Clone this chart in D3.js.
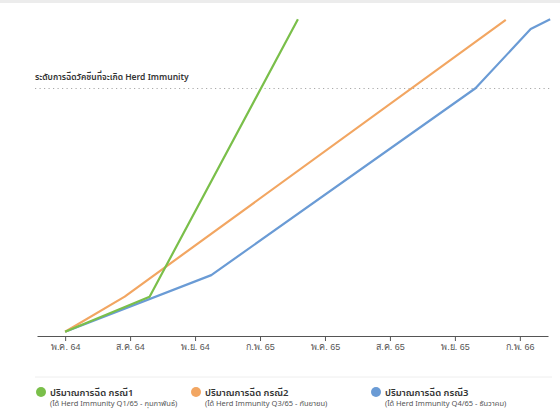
<!DOCTYPE html>
<html>
<head>
<meta charset="utf-8">
<script src="https://cdn.jsdelivr.net/npm/d3@7"></script>
<style>
    body { margin: 0; background: #fff; }
    svg { display: block; font-family: "Noto Sans Thai", "Noto Sans", sans-serif; }
    .axis path, .axis line { stroke: #555; }
    .axis text { fill: #555; font-size: 9px; }
</style>
</head>
<body>
<svg class="chart"></svg>
<script>
// months counted from พ.ค. 64, values in million doses
var tickMonths = [0, 3, 6, 9, 12, 15, 18, 21];
var tickLabels = ["พ.ค. 64", "ส.ค. 64", "พ.ย. 64", "ก.พ. 65", "พ.ค. 65", "ส.ค. 65", "พ.ย. 65", "ก.พ. 66"];

var monthsCase1 = [0, 3.9, 10.75];
var dosesCase1 = [1.7, 15.9, 128];
var monthsCase2 = [0, 2.75, 20.35];
var dosesCase2 = [1.7, 15.9, 127.7];
var monthsCase3 = [0, 6.75, 18.95, 21.5, 22.4];
var dosesCase3 = [1.7, 24.6, 100.1, 124, 128];

var herdLevel = 100;
var herdLabel = "ระดับการฉีดวัคซีนที่จะเกิด Herd Immunity";

var seriesNames = ["ปริมาณการฉีด กรณี1", "ปริมาณการฉีด กรณี2", "ปริมาณการฉีด กรณี3"];
var seriesNotes = ["(ได้ Herd Immunity Q1/65 - กุมภาพันธ์)", "(ได้ Herd Immunity Q3/65 - กันยายน)", "(ได้ Herd Immunity Q4/65 - ธันวาคม)"];
var seriesColors = ["#7abf4a", "#f2a662", "#6a9bd5"];

var width = 560, height = 420;

var svg = d3.select(".chart")
        .attr("width", width)
        .attr("height", height);

// thin grey strip along the top edge
svg.append("rect")
        .attr("x", 0).attr("y", 0)
        .attr("width", width).attr("height", 3)
        .attr("fill", "#ececec");

var xRange = d3.scaleLinear()
        .domain([-1.3, 22.3])
        .range([37, 548]);
var yRange = d3.scaleLinear()
        .domain([0, 130])
        .range([336, 14.25]);

svg.append("g")
        .attr("class", "x axis")
        .attr("transform", "translate(0," + yRange(0) + ")")
        .call(d3.axisBottom(xRange)
                .tickValues(tickMonths)
                .tickSize(5)
                .tickSizeOuter(0)
                .tickPadding(3)
                .tickFormat(function (d, i) { return tickLabels[i]; }));

// herd immunity level
svg.append("line")
        .attr("x1", 35).attr("x2", 552)
        .attr("y1", yRange(herdLevel)).attr("y2", yRange(herdLevel))
        .attr("stroke", "#aaa")
        .attr("stroke-width", 1.2)
        .attr("stroke-dasharray", "1.2,3.3");
svg.append("text")
        .attr("x", 35)
        .attr("y", yRange(herdLevel) - 9)
        .attr("font-size", 8.5)
        .attr("font-weight", 600)
        .attr("fill", "#333")
        .text(herdLabel);

var series = [
    {months: monthsCase1, doses: dosesCase1},
    {months: monthsCase2, doses: dosesCase2},
    {months: monthsCase3, doses: dosesCase3}
];

var line = d3.line()
        .x(function (p) { return xRange(p[0]); })
        .y(function (p) { return yRange(p[1]); });

// draw case 3 first so case 1 sits on top at the start
for (var s = series.length - 1; s >= 0; s--) {
    var pts = d3.zip(series[s].months, series[s].doses);
    svg.append("path")
            .datum(pts)
            .attr("fill", "none")
            .attr("stroke", seriesColors[s])
            .attr("stroke-width", 2.2)
            .attr("stroke-linejoin", "round")
            .attr("d", line);
}

// legend
svg.append("line")
        .attr("x1", 35).attr("x2", 552)
        .attr("y1", 377).attr("y2", 377)
        .attr("stroke", "#eee");

var legendX = [41, 196, 376];
var legend = svg.selectAll(".legendItem")
        .data(seriesNames)
        .enter().append("g")
        .attr("class", "legendItem")
        .attr("transform", function (d, i) { return "translate(" + legendX[i] + ",392)"; });
legend.append("circle")
        .attr("r", 5)
        .attr("fill", function (d, i) { return seriesColors[i]; });
legend.append("text")
        .attr("x", 9)
        .attr("y", 3.5)
        .attr("font-size", 9.5)
        .attr("font-weight", 600)
        .attr("fill", "#333")
        .text(function (d) { return d; });
legend.append("text")
        .attr("x", 9)
        .attr("y", 14)
        .attr("font-size", 7.5)
        .attr("fill", "#555")
        .text(function (d, i) { return seriesNotes[i]; });
</script>
</body>
</html>
